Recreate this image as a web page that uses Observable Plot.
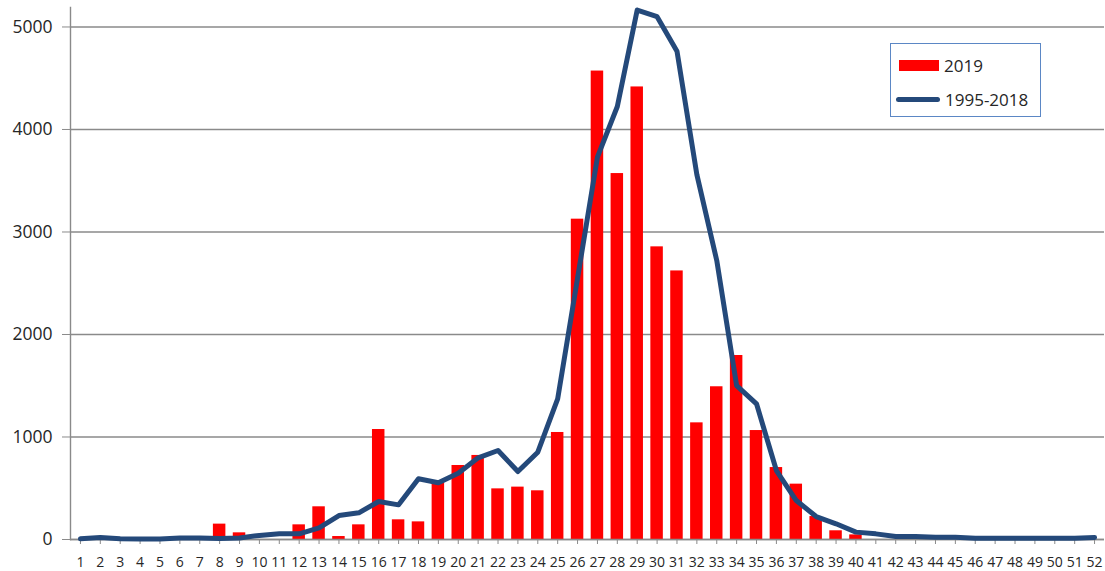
<!DOCTYPE html>
<html>
<head>
<meta charset="utf-8">
<script src="https://cdn.jsdelivr.net/npm/d3@7"></script>
<script src="https://cdn.jsdelivr.net/npm/@observablehq/plot@0.6"></script>
<style>
  html, body { margin: 0; padding: 0; background: #fff; }
  #wrap { position: relative; width: 1105px; height: 571px; font-family: "Open Sans", "Liberation Sans", sans-serif; }
  #legend {
    position: absolute; left: 890px; top: 43px; width: 149px; height: 72px;
    border: 1.5px solid #5b87c5; background: #fff; box-sizing: content-box;
  }
  .li { position: absolute; left: 0; height: 20px; display: flex; align-items: center; font-size: 17px; color: #262626; }
  .sw { display: inline-block; margin-right: 5px; }
</style>
</head>
<body>
<div id="wrap">
  <div id="chart"></div>
  <div id="legend">
    <div class="li" style="top:11px;left:8px"><span class="sw" style="width:40px;height:11px;background:#ff0000"></span><span id="l1"></span></div>
    <div class="li" style="top:45px;left:5px"><span class="sw" style="width:44px;height:5px;border-radius:3px;background:#24497a"></span><span id="l2"></span></div>
  </div>
</div>
<script>
const weeks = [1,2,3,4,5,6,7,8,9,10,11,12,13,14,15,16,17,18,19,20,21,22,23,24,25,26,
  27,28,29,30,31,32,33,34,35,36,37,38,39,40,41,42,43,44,45,46,47,48,49,50,51,52];
const values2019 = [0,0,0,0,0,0,0,150,65,0,0,143,319,29,143,1073,192,172,560,722,820,494,511,475,1044,3125,
  4570,3570,4415,2855,2620,1138,1490,1795,1063,702,540,224,85,45,0,0,0,0,0,0,0,0,0,0,0,0];
const values19952018 = [7,20,7,5,5,15,15,10,15,40,55,55,114,234,260,371,338,592,553,647,797,868,663,852,1372,2550,
  3730,4224,5165,5100,4764,3560,2722,1502,1324,673,380,224,153,72,55,29,29,23,23,13,13,13,13,13,13,20];
const seriesNames = ["2019", "1995-2018"];
const yTicks = [0, 1000, 2000, 3000, 4000, 5000];

document.getElementById("l1").textContent = seriesNames[0];
document.getElementById("l2").textContent = seriesNames[1];

const bars = weeks.map((w, i) => ({week: w, value: values2019[i]}));
const avg = weeks.map((w, i) => ({week: w, value: values19952018[i]}));

const chart = Plot.plot({
  width: 1105,
  height: 571,
  marginLeft: 70,
  marginRight: 1,
  marginTop: 7,
  marginBottom: 32,
  style: {fontFamily: "'Open Sans', 'Liberation Sans', sans-serif", background: "#fff"},
  x: {type: "band", domain: weeks, padding: 0},
  y: {domain: [0, 5190]},
  marks: [
    Plot.gridY(yTicks, {stroke: "#8a8a8a", strokeOpacity: 1, strokeWidth: 1.4}),
    Plot.frame({anchor: "left", stroke: "#8a8a8a", strokeWidth: 1.4}),
    Plot.axisY(yTicks, {tickSize: 8, tickPadding: 10, fontSize: 17.5, stroke: "#8a8a8a", fill: "#262626", label: null, tickFormat: d => String(d)}),
    Plot.axisX(weeks, {tickSize: 5, tickPadding: 13, fontSize: 14, stroke: "#8a8a8a", fill: "#262626", label: null}),
    Plot.barY(bars, {x: "week", y: "value", fill: "#ff0000", insetLeft: 3.7, insetRight: 3.7}),
    Plot.ruleY([0], {stroke: "#8a8a8a", strokeWidth: 1.4}),
    Plot.line(avg, {x: "week", y: "value", stroke: "#24497a", strokeWidth: 5, strokeLinejoin: "round", strokeLinecap: "round"})
  ]
});
document.getElementById("chart").appendChild(chart);
</script>
</body>
</html>
